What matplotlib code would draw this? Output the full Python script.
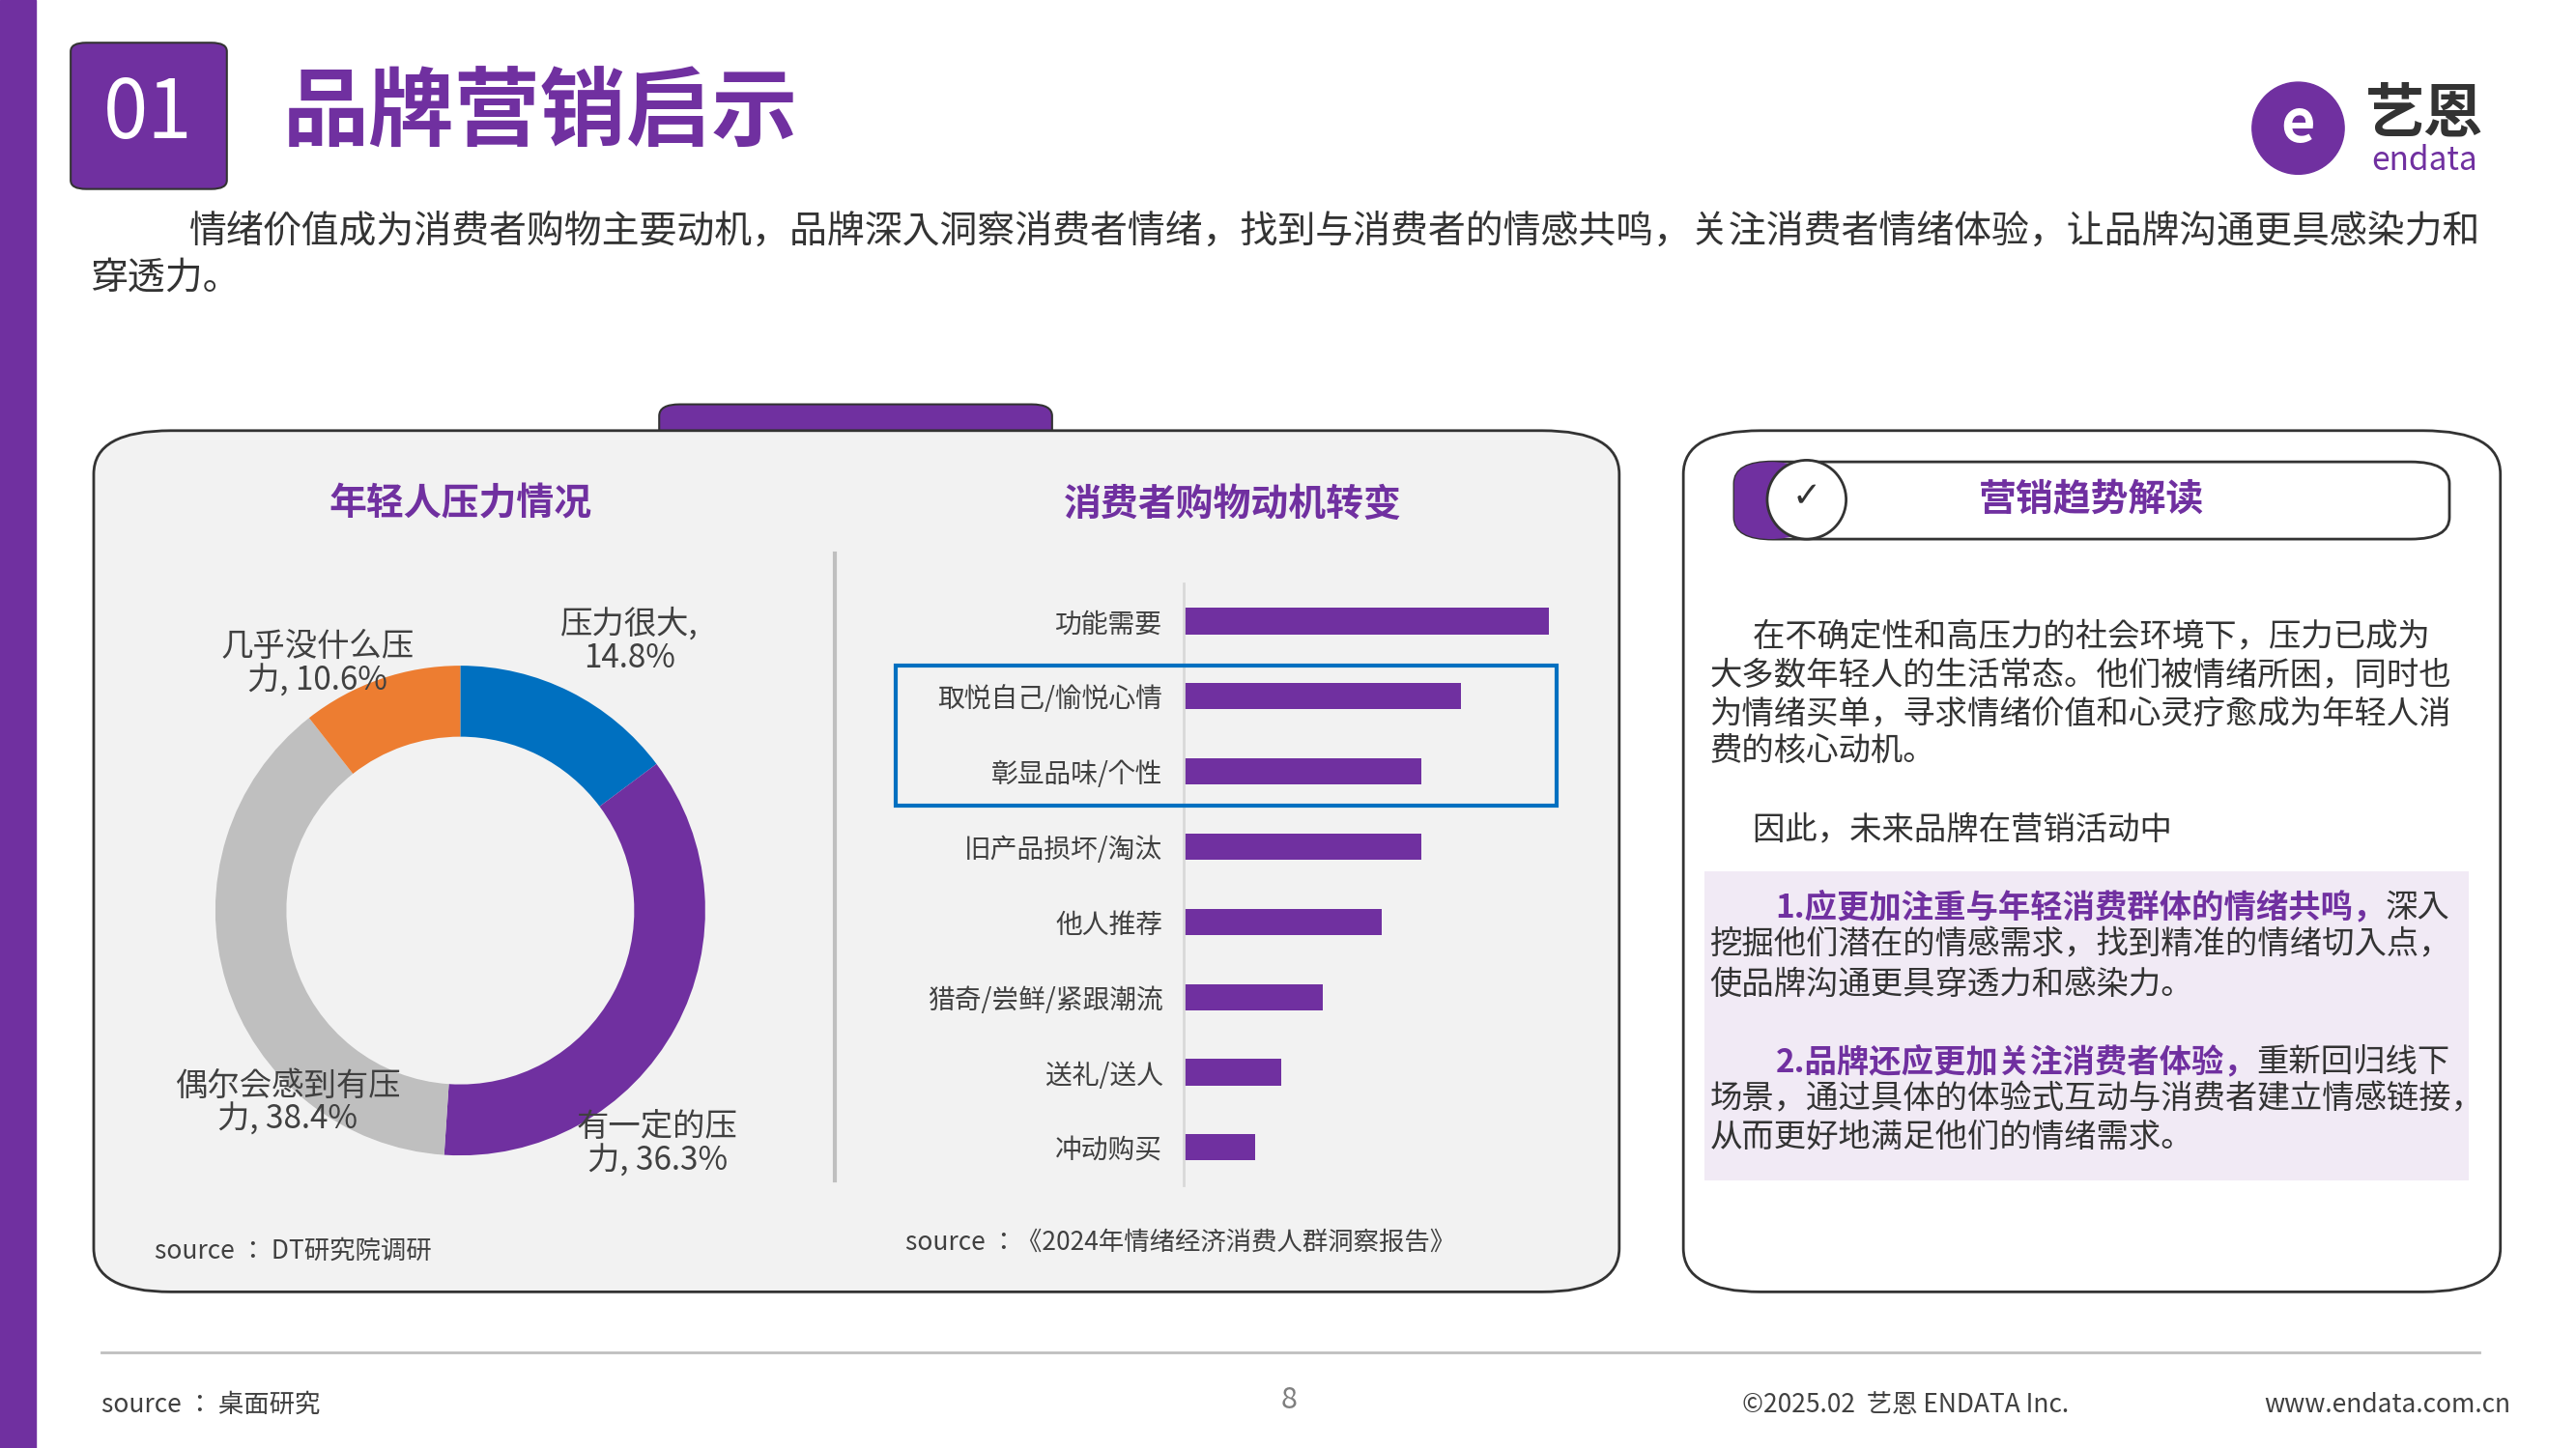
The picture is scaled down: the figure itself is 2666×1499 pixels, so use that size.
import matplotlib.pyplot as plt
from matplotlib import font_manager
from matplotlib.patches import FancyBboxPatch, Rectangle, Ellipse

# pick an installed CJK font file
cjk = [f for f in font_manager.findSystemFonts() if 'CJK' in f]
cjk.sort(key=lambda f: (('SC' not in f) and ('Regular' not in f), len(f)))
cjk_name = 'Noto Sans CJK SC'
if cjk:
    for f in cjk:
        try:
            font_manager.fontManager.addfont(f)
        except Exception:
            pass
    cjk_name = font_manager.FontProperties(fname=cjk[0]).get_name()
plt.rcParams['font.family'] = [cjk_name, 'Noto Sans CJK SC', 'DejaVu Sans']

PURPLE = '#7030A0'
W, H = 1567, 881  # layout reference grid

# donut data
pie_labels = ['压力很大,\n14.8%', '有一定的压\n力, 36.3%', '偶尔会感到有压\n力, 38.4%', '几乎没什么压\n力, 10.6%']
pie_values = [14.8, 36.3, 38.4, 10.6]
pie_colors = ['#0070C0', PURPLE, '#BFBFBF', '#ED7D31']

# bar data
motives = ['功能需要', '取悦自己/愉悦心情', '彰显品味/个性', '旧产品损坏/淘汰',
           '他人推荐', '猎奇/尝鲜/紧跟潮流', '送礼/送人', '冲动购买']
motive_values = [46, 35, 30, 30, 25, 17.5, 12.3, 9]


def fx(x):
    return x / W


def fy(y):
    return 1 - y / H


def box(x0, y0, x1, y1, **kw):
    return FancyBboxPatch((fx(x0), fy(y1)), fx(x1) - fx(x0), fy(y0) - fy(y1),
                          transform=fig.transFigure, **kw)


def circ(x, y, r, **kw):
    return Ellipse((fx(x), fy(y)), 2 * r / W, 2 * r / H, transform=fig.transFigure, **kw)


def txt(x, y, s, **kw):
    return fig.text(fx(x), fy(y), s, **kw)


fig = plt.figure(figsize=(26.66, 14.99), dpi=100)

# frame pieces
fig.patches.append(Rectangle((0, 0), fx(22), 1, transform=fig.transFigure, color=PURPLE, zorder=-5))
fig.patches.append(box(43, 26, 138, 115, boxstyle='round,pad=0,rounding_size=0.006',
                       fc=PURPLE, ec='#333333', lw=1.5, zorder=-5))
txt(90, 70, '01', color='white', fontsize=60, ha='center', va='center')
txt(172, 70, '品牌营销启示', color=PURPLE, fontsize=64, weight='bold', va='center')

# logo
fig.patches.append(circ(1398, 78, 28, color=PURPLE, zorder=-5))
txt(1398, 76, 'e', color='white', fontsize=44, weight='bold', ha='center', va='center')
txt(1475, 70, '艺恩', color='#333333', fontsize=44, weight='bold', ha='center', va='center')
txt(1475, 98, 'endata', color=PURPLE, fontsize=24, style='italic', ha='center', va='center')

txt(115, 141, '情绪价值成为消费者购物主要动机，品牌深入洞察消费者情绪，找到与消费者的情感共鸣，关注消费者情绪体验，让品牌沟通更具感染力和',
    fontsize=28, color='#333333', va='center')
txt(55, 169, '穿透力。', fontsize=28, color='#333333', va='center')

# left panel
fig.patches.append(box(401, 246, 640, 275, boxstyle='round,pad=0,rounding_size=0.008',
                       fc=PURPLE, ec='#333333', lw=1.5, zorder=-5))
fig.patches.append(box(57, 262, 985, 786, boxstyle='round,pad=0,rounding_size=0.03',
                       fc='#F2F2F2', ec='#333333', lw=2, zorder=-4))
fig.add_artist(plt.Line2D([fx(508), fx(508)], [fy(337), fy(718)], transform=fig.transFigure,
                          color='#BFBFBF', lw=3))
txt(280, 307, '年轻人压力情况', fontsize=28, color=PURPLE, weight='bold', ha='center', va='center')
txt(750, 307, '消费者购物动机转变', fontsize=28, color=PURPLE, weight='bold', ha='center', va='center')
txt(94, 761, 'source ： DT研究院调研', fontsize=19, color='#404040', va='center')
txt(551, 756, 'source ：《2024年情绪经济消费人群洞察报告》', fontsize=19, color='#404040', va='center')

# donut
axp = fig.add_axes([fx(131), fy(704), fx(429) - fx(131), fy(404) - fy(704)])
axp.pie(pie_values, colors=pie_colors, startangle=90, counterclock=False,
        wedgeprops=dict(width=0.29, edgecolor='none'))
axp.set_xlim(-1, 1)
axp.set_ylim(-1, 1)
axp.set_aspect('equal')
label_pos = [(383, 390), (400, 696), (175, 671), (193, 404)]
for lab, (x, y) in zip(pie_labels, label_pos):
    txt(x, y, lab, fontsize=24, color='#404040', ha='center', va='center', linespacing=1.0)

# bars
axb = fig.add_axes([fx(720), fy(721), fx(960) - fx(720), fy(355) - fy(721)])
axb.barh(range(len(motives)), motive_values, height=0.35, color=PURPLE)
axb.set_ylim(len(motives) - 0.5, -0.5)
axb.set_xlim(0, 46 * 240 / 222)
axb.set_yticks(range(len(motives)))
axb.set_yticklabels(motives, fontsize=20, color='#404040')
axb.tick_params(left=False, pad=12)
axb.set_xticks([])
axb.patch.set_alpha(0)
for s in ['top', 'right', 'bottom']:
    axb.spines[s].set_visible(False)
axb.spines['left'].set_color('#D9D9D9')
axb.spines['left'].set_linewidth(2)
fig.patches.append(Rectangle((fx(545), fy(490)), fx(947) - fx(545), fy(405) - fy(490),
                             transform=fig.transFigure, fill=False, ec='#0070C0', lw=3))

# right panel
fig.patches.append(box(1024, 262, 1521, 786, boxstyle='round,pad=0,rounding_size=0.03',
                       fc='white', ec='#333333', lw=2, zorder=-4))
fig.patches.append(box(1055, 281, 1490, 328, boxstyle='round,pad=0,rounding_size=0.015',
                       fc='white', ec='#333333', lw=2, zorder=-3))
fig.patches.append(box(1055, 281, 1100, 328, boxstyle='round,pad=0,rounding_size=0.015',
                       fc=PURPLE, ec='none', zorder=-2))
fig.patches.append(circ(1099, 304, 24, fc='white', ec='#333333', lw=2, zorder=-1))
txt(1099, 302, '✓', fontsize=26, ha='center', va='center', color='#333333', family='DejaVu Sans')
txt(1272, 304, '营销趋势解读', fontsize=28, color=PURPLE, weight='bold', ha='center', va='center')

FS = 24
body = ['      在不确定性和高压力的社会环境下，压力已成为', '大多数年轻人的生活常态。他们被情绪所困，同时也',
        '为情绪买单，寻求情绪价值和心灵疗愈成为年轻人消', '费的核心动机。']
for i, line in enumerate(body):
    txt(1040, 387 + i * 23.5, line, fontsize=FS, color='#333333', va='center')
txt(1040, 505, '      因此，未来品牌在营销活动中', fontsize=FS, color='#333333', va='center')

fig.patches.append(Rectangle((fx(1037), fy(718)), fx(1502) - fx(1037), fy(530) - fy(718),
                             transform=fig.transFigure, color='#F1EAF5', ec='none', zorder=-3))
b1 = txt(1080, 552, '1.应更加注重与年轻消费群体的情绪共鸣，', fontsize=FS, color=PURPLE,
         weight='bold', va='center')
b2 = txt(1080, 646, '2.品牌还应更加关注消费者体验，', fontsize=FS, color=PURPLE, weight='bold', va='center')
fig.canvas.draw()
inv = fig.transFigure.inverted()
for bt, y, rest in [(b1, 552, '深入'), (b2, 646, '重新回归线下')]:
    x1 = inv.transform(bt.get_window_extent().p1)[0]
    fig.text(x1, fy(y), rest, fontsize=FS, color='#333333', va='center')
txt(1040, 575, '挖掘他们潜在的情感需求，找到精准的情绪切入点，', fontsize=FS, color='#333333', va='center')
txt(1040, 599, '使品牌沟通更具穿透力和感染力。', fontsize=FS, color='#333333', va='center')
txt(1040, 669, '场景，通过具体的体验式互动与消费者建立情感链接，', fontsize=FS, color='#333333', va='center')
txt(1040, 692, '从而更好地满足他们的情绪需求。', fontsize=FS, color='#333333', va='center')

# footer
fig.add_artist(plt.Line2D([fx(62), fx(1508)], [fy(823), fy(823)], transform=fig.transFigure,
                          color='#BFBFBF', lw=2))
txt(62, 855, 'source ： 桌面研究', fontsize=19, color='#404040', va='center')
txt(784, 852, '8', fontsize=22, color='#7F7F7F', ha='center', va='center')
txt(1060, 855, '©2025.02  艺恩 ENDATA Inc.', fontsize=19, color='#404040', va='center')
txt(1527, 855, 'www.endata.com.cn', fontsize=19, color='#404040', ha='right', va='center')

fig.savefig('out.png', dpi=100, facecolor='white')
